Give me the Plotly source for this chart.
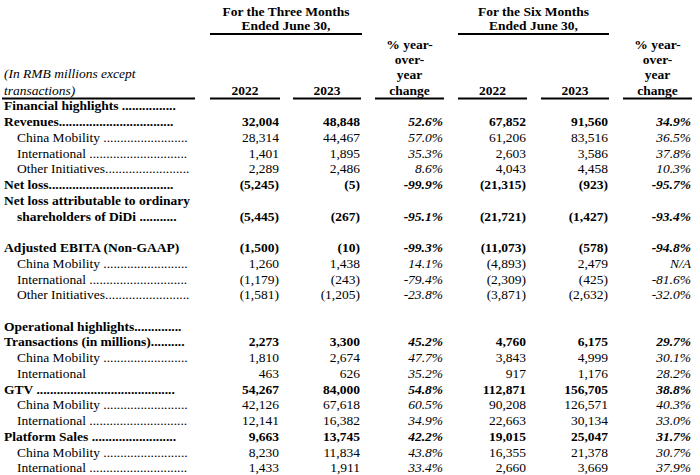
import plotly.graph_objects as go

# ---------------- data ----------------
row_labels = [
    "Financial highlights " + "." * 16,
    "Revenues" + "." * 34,
    "China Mobility " + "." * 25,
    "International " + "." * 29,
    "Other Initiatives" + "." * 25,
    "Net loss" + "." * 37,
    "Net loss attributable to ordinary",
    "shareholders of DiDi " + "." * 11,
    "",
    "Adjusted EBITA (Non-GAAP)",
    "China Mobility " + "." * 25,
    "International " + "." * 29,
    "Other Initiatives" + "." * 25,
    "",
    "Operational highlights" + "." * 14,
    "Transactions (in millions)" + "." * 10,
    "China Mobility " + "." * 25,
    "International",
    "GTV " + "." * 41,
    "China Mobility " + "." * 25,
    "International " + "." * 29,
    "Platform Sales " + "." * 25,
    "China Mobility " + "." * 25,
    "International " + "." * 29,
]
bold_rows = [0, 1, 5, 6, 7, 9, 14, 15, 18, 21]
indent_rows = [2, 3, 4, 7, 10, 11, 12, 16, 17, 19, 20, 22, 23]

q2_2022 = [None, 32004, 28314, 1401, 2289, -5245, None, -5445, None, -1500, 1260, -1179, -1581,
           None, None, 2273, 1810, 463, 54267, 42126, 12141, 9663, 8230, 1433]
q2_2023 = [None, 48848, 44467, 1895, 2486, -5, None, -267, None, -10, 1438, -243, -1205,
           None, None, 3300, 2674, 626, 84000, 67618, 16382, 13745, 11834, 1911]
q2_yoy = [None, 52.6, 57.0, 35.3, 8.6, -99.9, None, -95.1, None, -99.3, 14.1, -79.4, -23.8,
          None, None, 45.2, 47.7, 35.2, 54.8, 60.5, 34.9, 42.2, 43.8, 33.4]
h1_2022 = [None, 67852, 61206, 2603, 4043, -21315, None, -21721, None, -11073, -4893, -2309, -3871,
           None, None, 4760, 3843, 917, 112871, 90208, 22663, 19015, 16355, 2660]
h1_2023 = [None, 91560, 83516, 3586, 4458, -923, None, -1427, None, -578, 2479, -425, -2632,
           None, None, 6175, 4999, 1176, 156705, 126571, 30134, 25047, 21378, 3669]
h1_yoy = [None, 34.9, 36.5, 37.8, 10.3, -95.7, None, -93.4, None, -94.8, "N/A", -81.6, -32.0,
          None, None, 29.7, 30.1, 28.2, 38.8, 40.3, 33.0, 31.7, 30.7, 37.9]

group_titles = [["For the Three Months", "Ended June 30,"], ["For the Six Months", "Ended June 30,"]]
year_labels = ["2022", "2023"]
yoy_header = ["% year-", "over-", "year", "change"]
unit_header = ["(In RMB millions except", "transactions)"]

# ---------------- layout constants ----------------
FONT = "Liberation Serif, Times New Roman, serif"
FS = 13.5
ROW_Y0, ROW_STEP = 107, 15.74
LABEL_X, INDENT_X = 4, 17
col_spans = [(210, 280), (293, 361), (375, 444), (458, 527), (541, 609), (623, 692)]
group_spans = [(210, 362), (458, 609)]
label_span = (2, 195)
UNDERLINE_Y = 98.5
GROUP_LINE_Y = 34
HEAD_Y = [13, 27]
YOY_Y = [46, 61, 76, 91.5]
UNIT_Y = [75, 91.5]


def fmt_num(v):
    if v is None:
        return ""
    s = f"{abs(v):,}"
    return f"({s})" if v < 0 else s


def fmt_pct(v):
    if v is None:
        return ""
    if isinstance(v, str):
        return v
    return f"{v:.1f}%"


fig = go.Figure()


def add_text(xs, ys, texts, pos, weight="normal", style="normal"):
    fig.add_trace(go.Scatter(
        x=xs, y=ys, text=texts, mode="text", textposition=pos,
        textfont=dict(family=FONT, size=FS, color="#000000", weight=weight, style=style),
        hoverinfo="skip", showlegend=False, cliponaxis=False,
    ))


row_y = [ROW_Y0 + i * ROW_STEP for i in range(len(row_labels))]

# labels
for bold in (True, False):
    xs, ys, ts = [], [], []
    for i, lab in enumerate(row_labels):
        if not lab or ((i in bold_rows) != bold):
            continue
        xs.append(INDENT_X if i in indent_rows else LABEL_X)
        ys.append(row_y[i])
        ts.append(lab)
    add_text(xs, ys, ts, "middle right", weight="bold" if bold else "normal")

# values
columns = [(q2_2022, fmt_num, False), (q2_2023, fmt_num, False), (q2_yoy, fmt_pct, True),
           (h1_2022, fmt_num, False), (h1_2023, fmt_num, False), (h1_yoy, fmt_pct, True)]
for ci, (vals, fmt, italic) in enumerate(columns):
    right = col_spans[ci][1] - 1
    for bold in (True, False):
        xs, ys, ts = [], [], []
        for i, v in enumerate(vals):
            if v is None or ((i in bold_rows) != bold):
                continue
            xs.append(right)
            ys.append(row_y[i])
            ts.append(fmt(v))
        add_text(xs, ys, ts, "middle left", weight="bold" if bold else "normal",
                 style="italic" if italic else "normal")

# headers
for gi, (a, b) in enumerate(group_spans):
    cx = (a + b) / 2
    add_text([cx, cx], HEAD_Y, group_titles[gi], "middle center", weight="bold")
for ci in (0, 1, 3, 4):
    a, b = col_spans[ci]
    add_text([(a + b) / 2], [YOY_Y[-1]], [year_labels[ci % 3]], "middle center", weight="bold")
for ci in (2, 5):
    a, b = col_spans[ci]
    cx = (a + b) / 2
    add_text([cx] * len(yoy_header), YOY_Y, yoy_header, "middle center", weight="bold")
add_text([LABEL_X, LABEL_X], UNIT_Y, unit_header, "middle right", style="italic")

# rules
for a, b in col_spans + [label_span]:
    fig.add_shape(type="line", x0=a, x1=b, y0=UNDERLINE_Y, y1=UNDERLINE_Y,
                  line=dict(color="#000000", width=2))
for a, b in group_spans:
    fig.add_shape(type="line", x0=a, x1=b, y0=GROUP_LINE_Y, y1=GROUP_LINE_Y,
                  line=dict(color="#000000", width=2))

fig.update_layout(
    width=700, height=475,
    margin=dict(l=0, r=0, t=0, b=0),
    paper_bgcolor="white", plot_bgcolor="white",
    xaxis=dict(range=[0, 700], visible=False, fixedrange=True),
    yaxis=dict(range=[475, 0], visible=False, fixedrange=True),
)

fig.write_html("out.html", config={"displayModeBar": False},
               post_script="document.body.style.margin='0';document.body.style.overflow='hidden';")
